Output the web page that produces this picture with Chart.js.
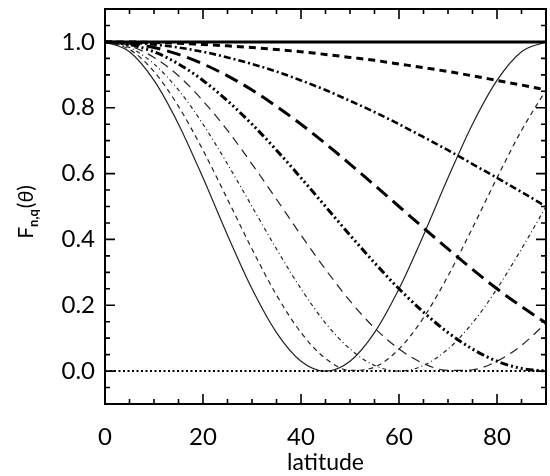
<!DOCTYPE html>
<html><head><meta charset="utf-8">
<script src="https://cdn.jsdelivr.net/npm/chart.js@4/dist/chart.umd.min.js"></script>
<style>html,body{margin:0;padding:0;background:#fff}#wrap{width:550px;height:476px}</style>
</head><body><div id="wrap"><canvas id="c" width="550" height="476"></canvas></div>
<script>
// latitude samples (degrees)
const lat = [0,5,10,15,20,25,30,35,40,45,50,55,60,65,70,75,80,85,90];
const xTickVals = [0,20,40,60,80];
const yTickVals = [0.0,0.2,0.4,0.6,0.8,1.0];
const yTickText = ['0.0','0.2','0.4','0.6','0.8','1.0'];

// curves
const fTop    = [1,1,1,1,1,1,1,1,1,1,1,1,1,1,1,1,1,1,1];
const fZero   = [0,0,0,0,0,0,0,0,0,0,0,0,0,0,0,0,0,0,0];
const fQ025   = [1.000,1.000,0.998,0.996,0.992,0.988,0.983,0.977,0.970,0.962,0.953,0.944,0.933,0.922,0.910,0.897,0.883,0.869,0.854];
const fQ050   = [1.000,0.998,0.992,0.983,0.970,0.953,0.933,0.910,0.883,0.854,0.821,0.787,0.750,0.711,0.671,0.629,0.587,0.544,0.500];
const fQ075   = [1.000,0.996,0.983,0.962,0.933,0.897,0.854,0.804,0.750,0.691,0.629,0.565,0.500,0.435,0.371,0.309,0.250,0.196,0.146];
const fQ100   = [1.000,0.992,0.970,0.933,0.883,0.821,0.750,0.671,0.587,0.500,0.413,0.329,0.250,0.179,0.117,0.067,0.030,0.008,0.000];
const fQ125   = [1.000,0.988,0.953,0.897,0.821,0.731,0.629,0.522,0.413,0.309,0.213,0.131,0.067,0.023,0.002,0.004,0.030,0.078,0.146];
const fQ150   = [1.000,0.983,0.933,0.854,0.750,0.629,0.500,0.371,0.250,0.146,0.067,0.017,0.000,0.017,0.067,0.146,0.250,0.371,0.500];
const fQ175   = [1.000,0.977,0.910,0.804,0.671,0.522,0.371,0.231,0.117,0.038,0.002,0.012,0.067,0.162,0.289,0.435,0.587,0.731,0.854];
const fQ200   = [1.000,0.970,0.883,0.750,0.587,0.413,0.250,0.117,0.030,0.000,0.030,0.117,0.250,0.413,0.587,0.750,0.883,0.970,1.000];

function pts(arr){ return arr.map((v,i)=>({x:lat[i], y:v})); }
function ds(arr, width, dash, color){
  return {data:pts(arr), borderColor:color||'#000', borderWidth:width, borderDash:dash,
          pointRadius:0, fill:false, cubicInterpolationMode:'monotone', borderCapStyle:'butt'};
}

const FONT = 'Lato, "Open Sans", "DejaVu Sans", sans-serif';

const frame = {
  id:'frame',
  afterDraw(chart){
    const {ctx, chartArea:a, scales:{x, y}} = chart;
    ctx.save();
    ctx.strokeStyle = '#000';
    ctx.lineWidth = 2;
    ctx.strokeRect(a.left, a.top, a.right - a.left, a.bottom - a.top);
    ctx.lineWidth = 1.6;
    ctx.beginPath();
    for (let v = 0; v <= 90; v += 5) {
      const px = x.getPixelForValue(v);
      const L = (v % 20 === 0) ? 10 : 5;
      ctx.moveTo(px, a.bottom); ctx.lineTo(px, a.bottom - L);
      ctx.moveTo(px, a.top); ctx.lineTo(px, a.top + L);
    }
    for (let k = -2; k <= 22; k++) {
      const v = k * 0.05;
      const py = y.getPixelForValue(v);
      const L = (k % 4 === 0) ? 10 : 5;
      ctx.moveTo(a.left, py); ctx.lineTo(a.left + L, py);
      ctx.moveTo(a.right, py); ctx.lineTo(a.right - L, py);
    }
    ctx.stroke();
    // y title F_{n,q}(θ)
    ctx.translate(26, 212);
    ctx.rotate(-Math.PI / 2);
    ctx.fillStyle = '#000';
    ctx.textBaseline = 'alphabetic';
    const big = '21px ' + FONT, small = 'bold 13px ' + FONT, ital = 'italic 21px ' + FONT;
    const parts = [['F', big, 0], ['n,q', small, 5], ['(', big, 0], ['\u03B8', ital, 0], [')', big, 0]];
    let w = 0;
    parts.forEach(p => { ctx.font = p[1]; w += ctx.measureText(p[0]).width + (p[0]==='n,q'?1:0); });
    let cx = -w / 2;
    parts.forEach(p => { ctx.font = p[1]; ctx.fillText(p[0], cx, 7 + p[2]); cx += ctx.measureText(p[0]).width + (p[0]==='n,q'?1:0); });
    ctx.restore();
  }
};

new Chart(document.getElementById('c'), {
  type: 'line',
  data: { datasets: [
    ds(fTop, 3, []),
    ds(fZero, 2, [2, 2.5]),
    ds(fQ025, 3, [7, 5]),
    ds(fQ050, 2.6, [7, 3, 2, 3]),
    ds(fQ075, 3, [14, 7]),
    ds(fQ100, 3, [8, 3, 2, 3, 2, 3, 2, 3]),
    ds(fQ125, 1.2, [9, 6], '#222'),
    ds(fQ150, 1.2, [4, 3, 1, 3], '#222'),
    ds(fQ175, 1.2, [5, 4], '#222'),
    ds(fQ200, 1.2, [], '#222')
  ]},
  options: {
    responsive: false, animation: false, devicePixelRatio: 1,
    layout: { padding: { top: 9, right: 4, left: 0, bottom: 0 } },
    plugins: { legend: { display: false }, tooltip: { enabled: false } },
    scales: {
      x: {
        type: 'linear', min: 0, max: 90,
        grid: { display: false, drawTicks: false }, border: { display: false },
        afterBuildTicks: s => { s.ticks = xTickVals.map(v => ({ value: v })); },
        afterFit: s => { s.height = 72; s.paddingLeft = 0; s.paddingRight = 0; },
        ticks: { color: '#000', font: { family: FONT, size: 24 }, padding: 19, maxRotation: 0,
                 callback: v => String(v) },
        title: { display: true, text: 'latitude', color: '#000', font: { family: FONT, size: 23 }, padding: { top: -4, bottom: 0 } }
      },
      y: {
        type: 'linear', min: -0.1, max: 1.1,
        grid: { display: false, drawTicks: false }, border: { display: false },
        afterBuildTicks: s => { s.ticks = yTickVals.map(v => ({ value: v })); },
        afterFit: s => { s.width = 105; s.paddingTop = 0; s.paddingBottom = 0; },
        ticks: { color: '#000', font: { family: FONT, size: 24 }, padding: 10,
                 callback: v => yTickText[yTickVals.findIndex(t => Math.abs(t - v) < 1e-9)] }
      }
    }
  },
  plugins: [frame]
});
</script></body></html>
